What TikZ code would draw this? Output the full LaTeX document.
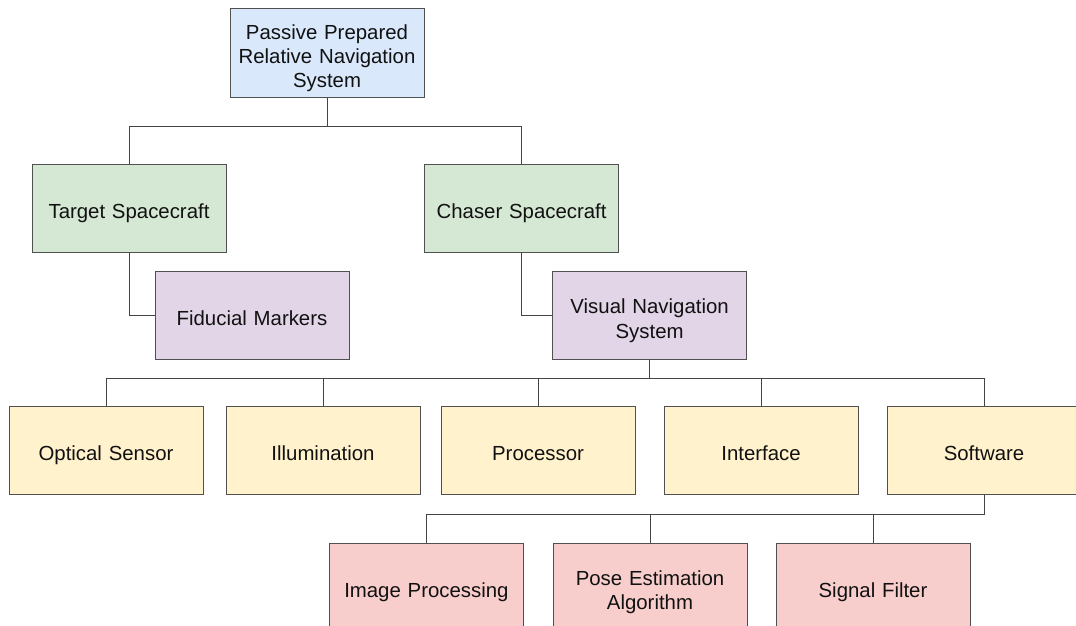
\documentclass[tikz,border=0pt]{standalone}
\usepackage{fontspec}
\setmainfont{Liberation Sans}
\usepackage{tikz}
\usetikzlibrary{positioning,calc}
\definecolor{rootFill}{HTML}{DAE8FC}
\definecolor{craftFill}{HTML}{D5E8D4}
\definecolor{subFill}{HTML}{E1D5E7}
\definecolor{partFill}{HTML}{FFF2CC}
\definecolor{softFill}{HTML}{F8CECC}
\definecolor{edge}{HTML}{505050}
\definecolor{ink}{HTML}{111111}

\begin{document}
\begin{tikzpicture}[
  font=\fontsize{14.5pt}{17.2pt}\selectfont,
  box/.style={draw=edge, line width=0.6pt, minimum width=4.85cm, minimum height=2.2cm, text width=4.6cm, align=center, text=ink, inner sep=2pt,
    execute at begin node=\rule{0pt}{20pt}, execute at end node=\strut},
  root/.style={box, fill=rootFill},
  craft/.style={box, fill=craftFill},
  sub/.style={box, fill=subFill},
  part/.style={box, fill=partFill},
  soft/.style={box, fill=softFill},
  link/.style={draw=edge!85!black, line width=0.6pt}
]
\useasboundingbox (0,0) rectangle (26.9,15.65);

% ------------------------------------------------------------------
% Top levels
% ------------------------------------------------------------------
\node[root] (pprn) at (8.175,14.325) {Passive Prepared\\Relative Navigation\\System};
\node[craft] (target) at (3.225,10.45) {Target Spacecraft};
\node[craft] (chaser) at (13.04,10.45) {Chaser Spacecraft};
\node[sub] (fid) at (6.3,7.7625) {Fiducial Markers};
\node[sub] (vns) at (16.24,7.7625) {Visual Navigation\\System};

\coordinate (busA) at (0,12.5);
\foreach \c in {target,chaser}
  \draw[link] (pprn.south) -- (pprn.south |- busA) -| (\c.north);
\draw[link] (target.south) |- (fid.west);
\draw[link] (chaser.south) |- (vns.west);

% ------------------------------------------------------------------
% Visual navigation system parts
% ------------------------------------------------------------------
\node[part] (optic) at (2.65,4.3875) {Optical Sensor};
\node[part] (illum) at (8.075,4.3875) {Illumination};
\node[part] (proc) at (13.45,4.3875) {Processor};
\node[part] (iface) at (19.025,4.3875) {Interface};
\node[part] (sw) at (24.6,4.3875) {Software};

\coordinate (busB) at (0,6.2);
\foreach \c in {optic,illum,proc,iface,sw}
  \draw[link] (vns.south) -- (vns.south |- busB) -| (\c.north);

% ------------------------------------------------------------------
% Software blocks
% ------------------------------------------------------------------
\node[soft] (imgp) at (10.66,0.975) {Image Processing};
\node[soft] (pose) at (16.25,0.975) {Pose Estimation\\Algorithm};
\node[soft] (filt) at (21.825,0.975) {Signal Filter};

\coordinate (busC) at (0,2.8);
\foreach \c in {imgp,pose,filt}
  \draw[link] (sw.south) -- (sw.south |- busC) -| (\c.north);

\end{tikzpicture}
\end{document}
